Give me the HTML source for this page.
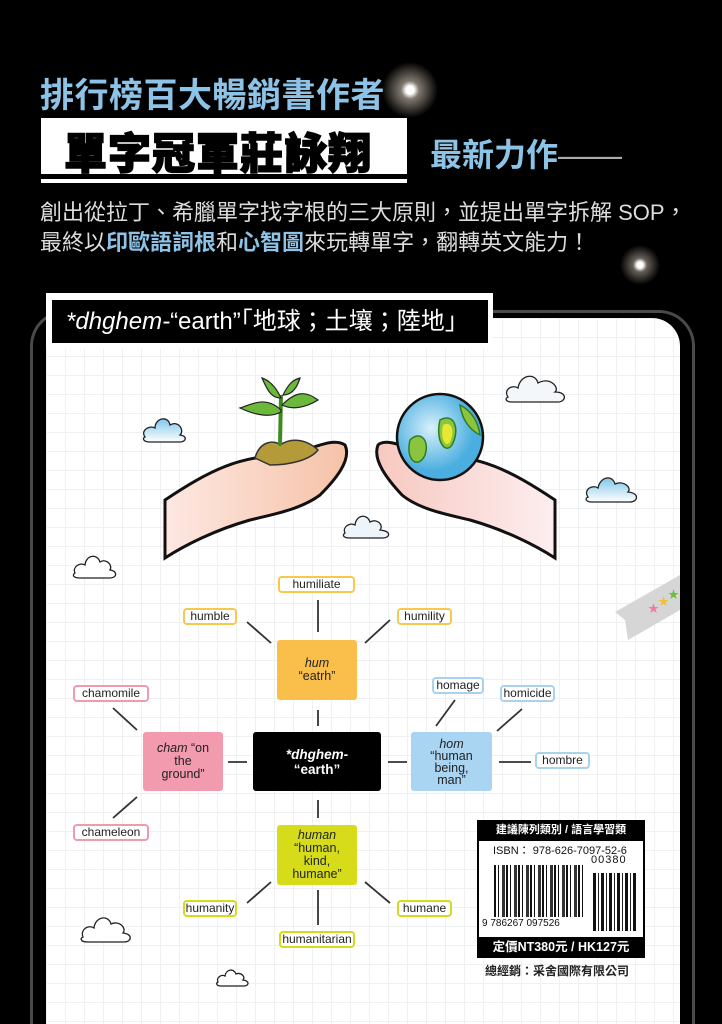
<!DOCTYPE html>
<html style="width:722px;height:1024px;overflow:hidden"><head><meta charset="utf-8">
<style>
*{margin:0;padding:0;box-sizing:border-box}
body{width:722px;height:1024px;background:#000;position:relative;overflow:hidden;font-family:"Liberation Sans","Noto Sans CJK TC",sans-serif}
.a{position:absolute}
.lbl{position:absolute;height:17px;background:#fff;border:2px solid;border-radius:4px;font-size:12px;line-height:13px;text-align:center;color:#222}
.y{border-color:#f5c84e}.p{border-color:#f09aae}.b{border-color:#a9d2ee}.g{border-color:#d4da1c}
.box{position:absolute;border-radius:3px;font-size:12.5px;line-height:13px;text-align:center;color:#222;display:flex;align-items:center;justify-content:center;flex-direction:column}
</style></head><body>
<div class="a" style="left:380px;top:60px;width:60px;height:60px;background:radial-gradient(circle,#fff 0,#fff 4px,rgba(255,240,220,.5) 9px,rgba(0,0,0,0) 28px)"></div>
<div class="a" style="left:620px;top:245px;width:40px;height:40px;background:radial-gradient(circle,#fff 0,#fff 3px,rgba(255,240,220,.4) 7px,rgba(0,0,0,0) 20px)"></div>
<div class="a" style="left:40px;top:68px;font-size:34px;font-weight:bold;color:#8cc3e6;letter-spacing:0.5px;white-space:nowrap">排行榜百大暢銷書作者</div>
<div class="a" style="left:41px;top:118px;width:366px;height:56px;background:#fff"></div>
<div class="a" style="left:41px;top:179px;width:366px;height:4px;background:#fff"></div>
<div class="a" style="left:64px;top:120px;font-size:43px;font-weight:900;color:#000;letter-spacing:1px;white-space:nowrap;-webkit-text-stroke:1.5px #000">單字冠軍莊詠翔</div>
<div class="a" style="left:430px;top:130px;font-size:32px;font-weight:bold;color:#8cc3e6;white-space:nowrap">最新力作<span style="font-weight:normal;color:#aaa">——</span></div>
<div class="a" style="left:40px;top:198px;font-size:22px;color:#ddd;white-space:nowrap;line-height:30px">創出從拉丁、希臘單字找字根的三大原則，並提出單字拆解 SOP，<br>最終以<b style="color:#8cc3e6">印歐語詞根</b>和<b style="color:#8cc3e6">心智圖</b>來玩轉單字，翻轉英文能力！</div>

<div class="a" style="left:30px;top:310px;width:665px;height:714px;border:3px solid #4a4a4a;border-bottom:none;border-radius:36px 36px 0 0"></div>
<div class="a" style="left:46px;top:318px;width:634px;height:706px;background-color:#fff;border-top-right-radius:28px;background-image:linear-gradient(#eef0f3 1px,transparent 1px),linear-gradient(90deg,#eef0f3 1px,transparent 1px);background-size:19px 19px"></div>
<div class="a" style="left:46px;top:293px;width:447px;height:56px;background:#fff"></div>
<div class="a" style="left:52px;top:300px;width:436px;height:43px;background:#000;color:#fff;font-size:24px;line-height:43px;padding-left:14px;white-space:nowrap"><i>*dhghem-</i>“earth”「地球；土壤；陸地」</div>

<svg class="a" style="left:0;top:0" width="722" height="1024">
<defs><linearGradient id="sk" x1="0" x2="1"><stop offset="0" stop-color="#fde8e2"/><stop offset="1" stop-color="#f6c2a8"/></linearGradient>
<linearGradient id="sk2" x1="0" x2="1"><stop offset="0" stop-color="#f7c8c0"/><stop offset="1" stop-color="#fdeef0"/></linearGradient>
<radialGradient id="gl" cx=".4" cy=".4"><stop offset="0" stop-color="#d8f0fb"/><stop offset="1" stop-color="#4aaee0"/></radialGradient>
<linearGradient id="cl" x1="0" y1="0" x2="0" y2="1"><stop offset="0" stop-color="#7fc7ea"/><stop offset="1" stop-color="#fff"/></linearGradient></defs>
<g stroke="#111" stroke-width="3">
<path d="M165 500 C210 470 240 455 290 455 C320 445 335 438 345 445 C352 460 335 480 320 495 C300 510 270 515 250 520 C215 530 185 545 165 558 Z" fill="url(#sk)"/>
<path d="M555 500 C510 470 480 455 430 455 C400 445 385 438 378 445 C372 460 388 480 402 495 C420 510 450 515 470 520 C505 530 535 545 555 558 Z" fill="url(#sk2)"/>
</g>
<path d="M255 458 C260 440 275 440 280 445 C290 438 305 438 318 450 C310 460 290 465 270 465 Z" fill="#b59a3a" stroke="#333" stroke-width="1.5"/>
<path d="M280 445 L281 395" stroke="#3f8a1e" stroke-width="4"/>
<path d="M281 410 C265 395 250 405 240 408 C255 415 270 418 281 412 Z M282 405 C295 392 305 390 318 400 C305 408 292 410 282 405 Z M281 398 C275 385 268 380 262 378 C268 392 272 398 281 398 Z M283 395 C288 385 292 380 300 378 C297 388 292 395 283 395 Z" fill="#6cb83a" stroke="#222" stroke-width="1.2"/>
<circle cx="440" cy="437" r="43" fill="url(#gl)" stroke="#111" stroke-width="2.5"/>
<path d="M410 440 C420 430 430 440 425 455 C418 470 405 460 410 440 Z M440 420 C455 412 460 430 452 445 C445 455 435 440 440 420 Z M460 405 C470 410 478 420 480 435 C470 430 462 420 460 405 Z" fill="#8bc53f" stroke="#2e7d22" stroke-width="1.5"/>
<path d="M443 425 C452 420 455 432 450 442 C446 448 440 440 443 425 Z" fill="#e6e832"/>
<g fill="url(#cl)" stroke="#222" stroke-width="1.3">
<path d="M145 437 C140 430 150 425 155 428 C155 418 168 415 170 425 C178 420 185 430 180 435 C188 436 186 442 180 442 L150 442 C143 442 142 438 145 437 Z"/>
<path d="M508 397 C503 390 512 384 518 388 C520 375 535 372 538 383 C550 376 560 388 555 392 C568 392 566 402 558 402 L512 402 C505 402 505 398 508 397 Z" fill="#f4f7fa"/>
<path d="M588 497 C583 490 592 484 598 488 C600 477 612 474 615 484 C624 480 632 488 628 492 C640 493 638 502 630 502 L592 502 C585 502 585 498 588 497 Z"/>
<path d="M345 533 C342 527 350 522 355 525 C356 515 367 513 370 522 C377 518 384 525 380 530 C392 531 390 538 383 538 L350 538 C343 538 342 535 345 533 Z" fill="#eef5fa"/>
<path d="M75 573 C72 567 80 562 85 565 C86 555 97 553 100 562 C106 558 113 565 110 570 C118 571 117 578 110 578 L80 578 C73 578 72 575 75 573 Z" fill="#fff"/>
<path d="M83 937 C80 930 88 924 94 928 C95 917 108 914 111 924 C119 920 127 928 123 933 C133 934 132 942 124 942 L88 942 C80 942 80 938 83 937 Z" fill="#fff"/>
<path d="M218 982 C216 978 221 974 225 976 C226 969 234 968 236 974 C241 972 246 977 243 980 C250 981 249 986 244 986 L221 986 C216 986 216 983 218 982 Z" fill="#fff"/>
</g>
<path d="M680 575 L680 610 L628 640 L625 620 L615 612 Z" fill="#d6d6d6"/>
<text x="648" y="612" font-size="11" fill="#f07aa0">★</text><text x="658" y="605" font-size="11" fill="#f5c030">★</text><text x="668" y="598" font-size="11" fill="#6cc040">★</text>
<g stroke="#333" stroke-width="1.8">
<line x1="318" y1="600" x2="318" y2="632"/><line x1="247" y1="622" x2="271" y2="643"/><line x1="365" y1="643" x2="390" y2="620"/>
<line x1="318" y1="710" x2="318" y2="726"/><line x1="113" y1="708" x2="137" y2="730"/><line x1="228" y1="762" x2="247" y2="762"/>
<line x1="388" y1="762" x2="407" y2="762"/><line x1="455" y1="700" x2="436" y2="726"/><line x1="522" y1="709" x2="497" y2="731"/>
<line x1="499" y1="762" x2="531" y2="762"/><line x1="137" y1="797" x2="113" y2="818"/><line x1="318" y1="800" x2="318" y2="818"/>
<line x1="271" y1="882" x2="247" y2="903"/><line x1="365" y1="882" x2="390" y2="903"/><line x1="318" y1="890" x2="318" y2="925"/>
</g>
</svg>

<div class="lbl y" style="left:278px;top:576px;width:77px">humiliate</div>
<div class="lbl y" style="left:183px;top:608px;width:54px">humble</div>
<div class="lbl y" style="left:397px;top:608px;width:55px">humility</div>
<div class="lbl p" style="left:73px;top:685px;width:76px">chamomile</div>
<div class="lbl b" style="left:432px;top:677px;width:52px">homage</div>
<div class="lbl b" style="left:500px;top:685px;width:55px">homicide</div>
<div class="lbl b" style="left:535px;top:752px;width:55px">hombre</div>
<div class="lbl p" style="left:73px;top:824px;width:76px">chameleon</div>
<div class="lbl g" style="left:183px;top:900px;width:54px">humanity</div>
<div class="lbl g" style="left:397px;top:900px;width:55px">humane</div>
<div class="lbl g" style="left:279px;top:931px;width:76px">humanitarian</div>

<div class="box" style="left:277px;top:640px;width:80px;height:60px;background:#f9bf4a"><i>hum</i>“eatrh”</div>
<div class="box" style="left:143px;top:732px;width:80px;height:59px;background:#f29aae"><span><i>cham</i> “on</span>the<br>ground”</div>
<div class="box" style="left:253px;top:732px;width:128px;height:59px;background:#000;color:#fff;font-weight:bold;font-size:13.5px;line-height:15px"><i>*dhghem-</i>“earth”</div>
<div class="box" style="left:411px;top:732px;width:81px;height:59px;background:#a9d4f2;line-height:12px"><i>hom</i>“human<br>being,<br>man”</div>
<div class="box" style="left:277px;top:825px;width:80px;height:60px;background:#d6dc1a;line-height:13px"><i>human</i>“human,<br>kind,<br>humane”</div>

<div class="a" style="left:477px;top:820px;width:168px;height:138px;background:#fff;border:2px solid #000"></div>
<div class="a" style="left:477px;top:820px;width:168px;height:21px;background:#000;color:#fff;font-size:11px;line-height:21px;text-align:center;font-weight:bold">建議陳列類別 / 語言學習類</div>
<div class="a" style="left:493px;top:842px;font-size:11px;color:#111;white-space:nowrap">ISBN： 978-626-7097-52-6</div>
<div class="a" style="left:591px;top:854px;font-size:11px;color:#111;letter-spacing:1px">00380</div>
<div class="a" style="left:494px;top:865px;width:90px;height:52px;background:repeating-linear-gradient(90deg,#111 0 2px,#fff 2px 4px,#111 4px 5px,#fff 5px 8px,#333 8px 11px,#fff 11px 12px)"></div>
<div class="a" style="left:593px;top:873px;width:45px;height:58px;background:repeating-linear-gradient(90deg,#111 0 3px,#fff 3px 5px,#222 5px 6px,#fff 6px 8px)"></div>
<div class="a" style="left:482px;top:918px;font-size:10px;color:#111;background:#fff;white-space:nowrap">9 786267 097526</div>
<div class="a" style="left:477px;top:937px;width:168px;height:21px;background:#000;color:#fff;font-size:12.5px;line-height:21px;text-align:center;font-weight:bold">定價NT380元 / HK127元</div>
<div class="a" style="left:485px;top:962px;font-size:12px;color:#222;font-weight:bold;white-space:nowrap">總經銷：采舍國際有限公司</div>
</body></html>
